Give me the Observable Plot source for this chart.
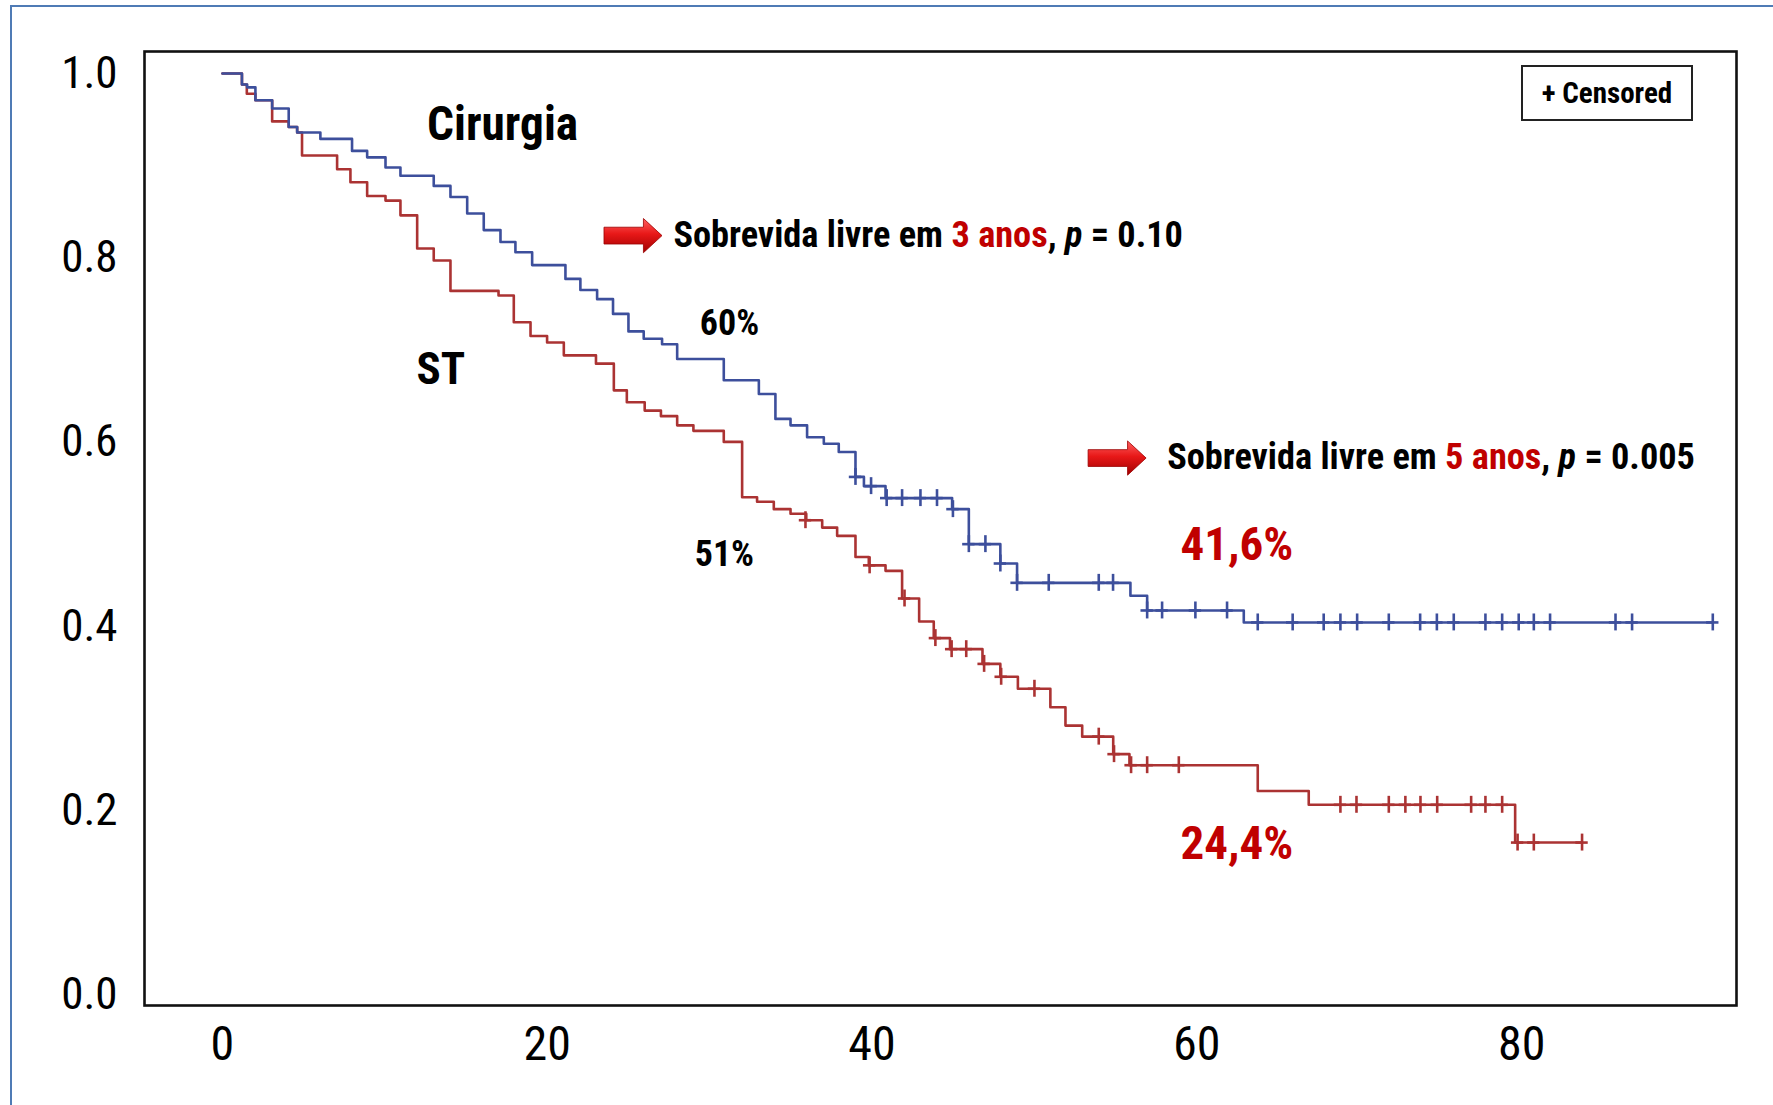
<!DOCTYPE html>
<html><head><meta charset="utf-8">
<script src="https://cdn.jsdelivr.net/npm/d3@7"></script>
<script src="https://cdn.jsdelivr.net/npm/@observablehq/plot@0.6"></script>
<style>
body{margin:0;background:#fff;}
#wrap{position:relative;width:1773px;height:1105px;overflow:hidden;background:#fff;}
#border{position:absolute;left:10px;top:5px;width:1800px;height:1200px;border-left:2px solid #4f7bb5;border-top:2px solid #4f7bb5;}
#chart{position:absolute;left:0;top:0;}
#legend{position:absolute;left:1521px;top:65px;width:168px;height:52px;border:2px solid #222;box-sizing:content-box;
  display:flex;align-items:center;justify-content:center;font-family:'Liberation Sans Narrow','Arial Narrow','Roboto Condensed',sans-serif;font-weight:bold;font-size:29px;color:#000;}
</style></head>
<body><div id="wrap"><div id="border"></div><div id="chart"></div><div id="legend">+ Censored</div></div>
<script>
// ---------------- data ----------------
const xTicks = [0, 20, 40, 60, 80];
const yTicks = [0, 0.2, 0.4, 0.6, 0.8, 1.0];

// ST (red) Kaplan-Meier steps: time (months), survival
const stTime = [0,1.2,1.5,2.03,3.06,4.08,4.6,4.9,7.06,7.88,8.91,10.04,10.96,11.99,13.01,14.04,17.0,17.94,18.97,19.99,21.02,23.0,24.1,24.9,26.0,27.0,28.0,29.0,30.87,32.0,32.92,33.95,34.98,35.95,36.93,37.85,38.98,39.8,40.83,41.85,42.9,43.8,44.8,46.8,47.9,48.98,50.98,51.91,52.94,54.85,55.85,63.75,66.89,79.6,83.72];
const stSurv = [1.0,0.988,0.978,0.971,0.948,0.942,0.936,0.911,0.896,0.882,0.867,0.862,0.846,0.81,0.797,0.764,0.759,0.73,0.715,0.708,0.694,0.685,0.656,0.643,0.634,0.628,0.618,0.612,0.6,0.54,0.535,0.527,0.522,0.515,0.507,0.498,0.475,0.466,0.46,0.43,0.405,0.387,0.375,0.359,0.345,0.332,0.312,0.292,0.28,0.261,0.249,0.221,0.206,0.165,0.165];
// ST censored
const stCensT = [35.9,39.85,42.0,43.9,44.9,45.8,46.9,47.95,50.0,53.96,54.9,55.95,56.94,58.89,68.84,69.83,71.82,72.84,73.77,74.8,76.89,77.77,78.8,79.75,80.75,83.72];
const stCensS = [0.515,0.466,0.43,0.387,0.375,0.375,0.359,0.345,0.332,0.28,0.261,0.249,0.249,0.249,0.206,0.206,0.206,0.206,0.206,0.206,0.206,0.206,0.206,0.165,0.165,0.165];

// Cirurgia (blue)
const ciTime = [0,1.2,1.52,2.03,3.06,4.08,4.6,6.03,7.98,8.91,10.04,10.96,13.01,14.04,15.07,16.09,17.12,18.04,19.07,21.12,22.04,23.07,24.05,25.0,25.94,27.07,28.0,30.87,33.03,34.05,34.98,36.0,37.03,37.95,38.98,39.5,40.83,44.93,45.96,47.9,48.93,55.91,56.94,62.89,91.77];
const ciSurv = [1.0,0.988,0.985,0.971,0.962,0.942,0.936,0.929,0.916,0.909,0.898,0.889,0.878,0.866,0.848,0.83,0.817,0.806,0.792,0.777,0.765,0.755,0.739,0.72,0.712,0.706,0.69,0.667,0.652,0.625,0.618,0.605,0.598,0.589,0.562,0.552,0.539,0.527,0.489,0.468,0.447,0.433,0.417,0.404,0.404];
const ciCensT = [38.98,39.94,40.9,41.85,42.98,44.0,44.98,45.96,46.98,47.9,48.93,50.88,53.96,54.84,56.94,57.86,59.91,61.86,63.75,65.9,67.81,68.84,69.87,71.82,73.75,74.78,75.82,77.77,78.8,79.82,80.75,81.75,85.78,86.8,91.77];
const ciCensS = [0.562,0.552,0.539,0.539,0.539,0.539,0.527,0.489,0.489,0.468,0.447,0.447,0.447,0.447,0.417,0.417,0.417,0.417,0.404,0.404,0.404,0.404,0.404,0.404,0.404,0.404,0.404,0.404,0.404,0.404,0.404,0.404,0.404,0.404,0.404];

// text annotations (position in data units)
const groupLabels = ["Cirurgia", "ST"];
const groupLabelT = [12.6, 11.95];
const groupLabelS = [0.944, 0.679];
const pctLabels = ["60%", "51%"];
const pctT = [29.39, 29.08];
const pctS = [0.729, 0.478];
const fiveYrLabels = ["41,6%", "24,4%"];
const fiveYrT = [59.0, 59.0];
const fiveYrS = [0.488, 0.164];
const noteYears = ["3 anos", "5 anos"];
const noteP = ["0.10", "0.005"];
const noteT = [27.77, 58.17];
const noteS = [0.824, 0.583];
const arrowT = [25.28, 55.09];
const arrowS = [0.824, 0.5825];

// ---------------- drawing ----------------
const FONT = "'Liberation Sans Narrow','Arial Narrow','Roboto Condensed',sans-serif";
const BLUE = "#3d4f9c", RED = "#ab3333", TXTRED = "#c00000";

const steps = (T, S) => T.map((t, i) => ({t, s: S[i]}));
const stData = steps(stTime, stSurv), ciData = steps(ciTime, ciSurv);
const stCens = steps(stCensT, stCensS), ciCens = steps(ciCensT, ciCensS);
const pack = (L, T, S) => L.map((label, i) => ({label, t: T[i], s: S[i]}));

const blockArrow = {
  draw(ctx, size) {
    const r = Math.sqrt(size / Math.PI);
    const pts = [[-1,-0.29],[0.36,-0.29],[0.36,-0.59],[1,0],[0.36,0.59],[0.36,0.29],[-1,0.29]];
    ctx.moveTo(pts[0][0]*r, pts[0][1]*r);
    for (const p of pts.slice(1)) ctx.lineTo(p[0]*r, p[1]*r);
    ctx.closePath();
  }
};

const notes = noteYears.map((y, i) => ({label: `Sobrevida livre em ${y}, p = ${noteP[i]}`, t: noteT[i], s: noteS[i], i}));

const censorMarks = (data, color) => [
  Plot.ruleX(data, {x: "t", y1: d => d.s - 0.0092, y2: d => d.s + 0.0092, stroke: color, strokeWidth: 2.6}),
  Plot.ruleY(data, {y: "s", x1: d => d.t - 0.38, x2: d => d.t + 0.38, stroke: color, strokeWidth: 2.6})
];

const svg = Plot.plot({
  width: 1773, height: 1105,
  marginLeft: 144, marginRight: 37, marginTop: 51, marginBottom: 100,
  x: {domain: [-4.8, 93.23]},
  y: {domain: [-0.0119, 1.0239]},
  style: {fontFamily: FONT, background: "transparent", color: "#000"},
  marks: [
    Plot.axisX({ticks: xTicks, tickSize: 0, tickPadding: 20, fontSize: 48, label: null, tickFormat: d => String(d)}),
    Plot.axisY({ticks: yTicks, tickSize: 0, tickPadding: 27, fontSize: 45, label: null, tickFormat: d => d.toFixed(1)}),
    Plot.line(stData, {x: "t", y: "s", curve: "step-after", stroke: RED, strokeWidth: 2.6}),
    Plot.line(ciData, {x: "t", y: "s", curve: "step-after", stroke: BLUE, strokeWidth: 2.6}),
    ...censorMarks(stCens, RED),
    ...censorMarks(ciCens, BLUE),
    Plot.frame({stroke: "#111", strokeWidth: 2.6}),
    Plot.text(pack(groupLabels, groupLabelT, groupLabelS), {x: "t", y: "s", text: "label", textAnchor: "start", fontWeight: "bold", fontSize: (d) => d.label === "ST" ? 45 : 47.3, fill: "#000"}),
    Plot.text(pack(pctLabels, pctT, pctS), {x: "t", y: "s", text: "label", textAnchor: "start", fontWeight: "bold", fontSize: 36, fill: "#000"}),
    Plot.text(pack(fiveYrLabels, fiveYrT, fiveYrS), {x: "t", y: "s", text: "label", textAnchor: "start", fontWeight: "bold", fontSize: 47, fill: TXTRED}),
    Plot.text(notes, {x: "t", y: "s", text: "label", textAnchor: "start", fontWeight: "bold", fontSize: 36.3, fill: "#000", className: "richnote"}),
    Plot.dot(arrowT.map((t, i) => ({t, s: arrowS[i]})), {x: "t", y: "s", symbol: blockArrow, r: 29, fill: "url(#arrowGrad)", stroke: "#9a0000", strokeWidth: 0.8})
  ]
});

// gradient for the 3D-looking arrows
const defs = d3.select(svg).insert("defs", ":first-child");
const g = defs.append("linearGradient").attr("id", "arrowGrad").attr("x1", 0).attr("y1", 0).attr("x2", 0).attr("y2", 1);
g.append("stop").attr("offset", "0%").attr("stop-color", "#ff6060");
g.append("stop").attr("offset", "45%").attr("stop-color", "#e81818");
g.append("stop").attr("offset", "100%").attr("stop-color", "#a00000");

// rich text for the two notes
d3.select(svg).selectAll("g.richnote text").each(function(d, k) {
  const el = d3.select(this);
  const idx = k;
  el.text(null);
  el.append("tspan").text("Sobrevida livre em ");
  el.append("tspan").attr("fill", TXTRED).text(noteYears[idx]);
  el.append("tspan").text(", ");
  el.append("tspan").attr("font-style", "italic").text("p");
  el.append("tspan").text(" = " + noteP[idx]);
});

document.getElementById("chart").appendChild(svg);
</script></body></html>
